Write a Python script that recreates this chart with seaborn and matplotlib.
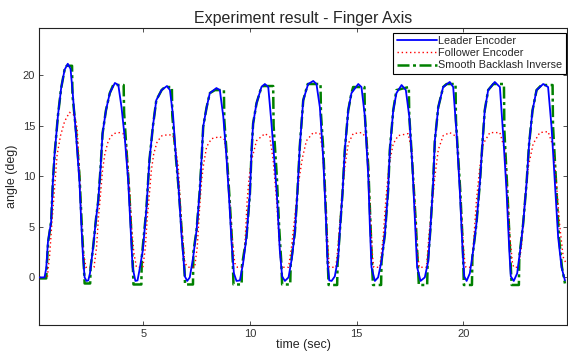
import pandas as pd
import matplotlib
matplotlib.use("Agg")
import matplotlib.pyplot as plt
import seaborn as sns

# values, (time sec, angle deg)
leader = [
    (0.13, 0.0), (0.36, 0.0), (0.44, 0.9), (0.52, 3.5), (0.67, 5.5), (0.75, 9.4), (0.83, 12.1), (0.99, 16.0),
    (1.14, 18.7), (1.30, 20.5), (1.45, 21.1), (1.58, 20.6), (1.69, 18.0), (1.85, 13.7), (2.00, 9.4), (2.08, 5.5),
    (2.16, 2.2), (2.24, 0.0), (2.33, -0.35),
    (2.41, -0.3), (2.49, 0.4), (2.64, 3.0), (2.77, 5.7), (2.88, 7.6), (2.99, 10.9), (3.08, 14.2), (3.24, 16.5),
    (3.42, 18.2), (3.66, 19.2), (3.82, 19.0), (3.97, 16.8), (4.13, 13.6), (4.28, 9.6), (4.39, 5.0), (4.49, 1.0),
    (4.62, -0.35),
    (4.72, -0.3), (4.81, 0.7), (4.97, 2.7), (5.13, 6.6), (5.28, 11.6), (5.44, 14.9), (5.60, 17.5), (5.85, 18.5),
    (6.10, 18.9), (6.24, 18.5), (6.39, 15.9), (6.50, 12.5), (6.63, 9.3), (6.78, 4.3), (6.94, 0.1), (7.05, -0.35),
    (7.17, 0.0), (7.33, 2.0), (7.49, 4.7), (7.64, 8.6), (7.72, 11.6), (7.80, 14.9), (7.96, 16.8), (8.11, 18.2),
    (8.42, 18.7), (8.58, 18.5), (8.74, 15.9), (8.89, 11.9), (9.02, 7.6), (9.13, 3.4), (9.24, 0.4), (9.36, -0.35),
    (9.52, -0.3), (9.67, 1.4), (9.83, 4.0), (9.99, 8.3), (10.07, 12.6), (10.14, 15.2), (10.30, 17.2), (10.53, 18.8),
    (10.69, 19.1), (10.85, 18.8), (11.00, 15.2), (11.16, 10.9), (11.27, 7.6), (11.39, 2.7), (11.50, 0.1), (11.63, -0.35),
    (11.80, 0.0), (11.95, 1.8), (12.10, 4.5), (12.22, 8.5), (12.33, 13.0), (12.49, 17.5), (12.72, 19.1), (12.96, 19.4),
    (13.11, 19.1), (13.27, 16.8), (13.43, 11.6), (13.55, 6.0), (13.63, 1.4), (13.71, -0.3), (13.82, -0.35),
    (13.97, 0.1), (14.13, 2.0), (14.21, 4.7), (14.33, 8.3), (14.44, 12.6), (14.60, 16.5), (14.75, 18.2), (15.07, 19.1),
    (15.22, 18.8), (15.38, 15.9), (15.54, 9.9), (15.61, 5.3), (15.69, 1.0), (15.85, -0.35),
    (16.00, 0.0), (16.16, 1.6), (16.32, 4.3), (16.47, 8.6), (16.55, 12.6), (16.71, 16.5), (16.86, 18.2), (17.10, 19.0),
    (17.30, 18.5), (17.46, 15.9), (17.61, 10.9), (17.72, 6.0), (17.83, 1.0), (17.99, -0.35),
    (18.19, 0.0), (18.35, 1.6), (18.45, 4.7), (18.58, 9.3), (18.66, 13.5), (18.82, 16.8), (19.05, 18.8), (19.36, 19.3),
    (19.52, 18.8), (19.68, 14.2), (19.83, 8.6), (19.96, 2.7), (20.04, 0.1), (20.15, -0.35),
    (20.30, 0.4), (20.46, 2.7), (20.61, 5.3), (20.77, 9.3), (20.90, 13.5), (21.00, 16.5), (21.16, 18.5), (21.47, 19.3),
    (21.71, 18.8), (21.86, 14.2), (22.02, 8.6), (22.15, 2.7), (22.22, 0.1), (22.36, -0.35),
    (22.52, 0.4), (22.68, 3.0), (22.80, 5.3), (22.96, 9.3), (23.08, 13.2), (23.24, 16.5), (23.43, 18.5), (23.74, 19.1),
    (23.97, 18.8), (24.13, 14.9), (24.29, 9.3), (24.44, 4.0), (24.60, 1.0), (24.76, -0.3),
]

follower = [
    (0.13, 0.0), (0.49, 0.0), (0.60, 2.2), (0.71, 5.5), (0.83, 8.8), (0.95, 12.1), (1.11, 14.0), (1.30, 15.4),
    (1.53, 16.3), (1.77, 16.0), (1.89, 14.7), (2.00, 10.4), (2.08, 6.2), (2.16, 2.8), (2.30, 1.0),
    (2.68, 1.0), (2.80, 3.0), (2.88, 5.7), (2.99, 8.3), (3.08, 10.6), (3.19, 12.2), (3.35, 13.5), (3.58, 14.2),
    (3.89, 14.3), (4.05, 14.2), (4.20, 12.9), (4.36, 8.3), (4.44, 5.0), (4.55, 2.4), (4.67, 1.0),
    (4.97, 1.0), (5.09, 3.0), (5.17, 5.7), (5.28, 8.3), (5.37, 10.6), (5.48, 12.2), (5.64, 13.4), (5.87, 14.0),
    (6.18, 14.1), (6.39, 14.0), (6.52, 12.5), (6.63, 10.9), (6.78, 5.3), (6.94, 1.4), (7.10, 1.0),
    (7.40, 1.0), (7.52, 3.0), (7.62, 6.5), (7.72, 9.5), (7.82, 11.2), (7.96, 12.9), (8.19, 13.7), (8.58, 13.9),
    (8.80, 13.6), (8.92, 11.5), (9.03, 7.8), (9.15, 4.0), (9.28, 1.4), (9.40, 1.0),
    (9.65, 1.0), (9.75, 3.0), (9.86, 7.6), (9.96, 10.0), (10.07, 11.6), (10.30, 13.5), (10.69, 14.2), (10.92, 13.9),
    (11.02, 12.5), (11.08, 11.6), (11.24, 7.6), (11.39, 2.7), (11.47, 1.0),
    (11.80, 1.0), (11.94, 3.0), (12.12, 6.5), (12.28, 9.5), (12.45, 11.8), (12.64, 13.5), (12.96, 14.3), (13.27, 14.2),
    (13.39, 12.6), (13.50, 9.3), (13.61, 4.3), (13.71, 1.0),
    (14.02, 1.0), (14.13, 3.3), (14.29, 7.6), (14.44, 10.9), (14.60, 13.2), (14.83, 14.2), (15.22, 14.3), (15.46, 13.8),
    (15.54, 10.9), (15.64, 6.0), (15.74, 2.0), (15.80, 1.0),
    (16.08, 1.0), (16.24, 4.0), (16.36, 7.6), (16.52, 11.2), (16.71, 13.2), (16.94, 14.0), (17.41, 14.2), (17.57, 12.6),
    (17.72, 7.6), (17.83, 2.7), (17.93, 1.0),
    (18.27, 1.0), (18.39, 4.3), (18.55, 7.6), (18.66, 9.9), (18.82, 12.6), (19.05, 14.0), (19.36, 14.3), (19.68, 13.9),
    (19.76, 11.6), (19.87, 7.6), (20.00, 3.0), (20.07, 1.4), (20.12, 1.0),
    (20.38, 1.0), (20.46, 3.0), (20.61, 7.6), (20.77, 10.9), (20.93, 13.2), (21.24, 14.3), (21.71, 14.3), (21.94, 12.6),
    (22.05, 8.6), (22.18, 4.0), (22.30, 1.4), (22.36, 1.0),
    (22.57, 1.0), (22.72, 3.0), (22.88, 7.6), (23.04, 10.9), (23.27, 13.2), (23.58, 14.3), (23.97, 14.4), (24.21, 12.9),
    (24.36, 9.3), (24.52, 5.0), (24.68, 2.0), (24.83, 1.3),
]

smooth_inverse = [
    (0.13, -0.1), (0.44, -0.1), (0.47, 1.2), (0.53, 3.5), (0.67, 5.5), (0.75, 9.4), (0.83, 12.1), (0.99, 16.0),
    (1.14, 18.7), (1.30, 20.5), (1.40, 20.9), (1.65, 20.9), (1.67, 18.0), (1.85, 14.2), (2.00, 10.0), (2.10, 5.5),
    (2.18, 2.2), (2.24, -0.6), (2.50, -0.6), (2.52, 1.0),
    (2.64, 3.0), (2.77, 5.7), (2.88, 7.6), (2.99, 10.9), (3.08, 14.2), (3.24, 16.5), (3.42, 18.2), (3.58, 19.0),
    (4.07, 19.0), (4.09, 16.3), (4.20, 12.8), (4.33, 8.5), (4.42, 4.8), (4.50, 1.2), (4.53, -0.7), (4.90, -0.7),
    (4.92, 2.0),
    (5.13, 6.6), (5.28, 11.6), (5.44, 14.9), (5.60, 17.5), (5.85, 18.5), (6.00, 18.8), (6.33, 18.8), (6.35, 16.0),
    (6.50, 12.3), (6.66, 8.5), (6.80, 4.3), (6.92, 0.8), (6.95, -0.7), (7.32, -0.7), (7.34, 2.5),
    (7.49, 4.7), (7.64, 8.6), (7.72, 11.6), (7.80, 14.9), (7.96, 16.8), (8.11, 18.2), (8.35, 18.5), (8.77, 18.5),
    (8.79, 15.5), (8.92, 11.6), (9.05, 7.3), (9.16, 3.2), (9.22, -0.7), (9.60, -0.7), (9.62, 1.2),
    (9.83, 4.0), (9.99, 8.3), (10.07, 12.6), (10.14, 15.2), (10.30, 17.2), (10.53, 18.8), (10.60, 18.9), (11.08, 18.9),
    (11.10, 15.0), (11.25, 10.0), (11.36, 5.0), (11.46, 1.5), (11.50, -0.7), (11.88, -0.7), (11.90, 1.2),
    (12.10, 4.5), (12.22, 8.5), (12.33, 13.0), (12.49, 17.5), (12.70, 19.1), (13.30, 19.1), (13.32, 16.2), (13.43, 12.6),
    (13.55, 6.6), (13.64, 1.4), (13.68, -0.75), (14.08, -0.75), (14.10, 1.4),
    (14.33, 8.3), (14.44, 12.6), (14.60, 16.5), (14.75, 18.2), (14.83, 18.8), (15.36, 18.8), (15.38, 16.0), (15.54, 10.9),
    (15.64, 5.3), (15.72, 1.0), (15.76, -0.75), (16.14, -0.75), (16.16, 1.6),
    (16.32, 4.3), (16.47, 8.6), (16.55, 12.6), (16.71, 16.5), (16.86, 18.5), (17.44, 18.8), (17.46, 16.0), (17.61, 11.0),
    (17.77, 5.3), (17.87, 1.0), (17.91, -0.75), (18.30, -0.75), (18.32, 1.2),
    (18.45, 4.7), (18.58, 9.3), (18.66, 13.5), (18.82, 16.8), (19.05, 18.8), (19.21, 19.1), (19.63, 19.1), (19.65, 15.5),
    (19.85, 8.6), (19.97, 3.2), (20.02, -0.75), (20.40, -0.75), (20.42, 2.0),
    (20.61, 5.3), (20.77, 9.3), (20.90, 13.5), (21.00, 16.5), (21.16, 18.5), (21.40, 19.1), (21.90, 19.1), (21.92, 14.5),
    (22.05, 9.0), (22.17, 3.5), (22.26, -0.75), (22.60, -0.75), (22.62, 2.0),
    (22.80, 5.3), (22.96, 9.3), (23.08, 13.2), (23.24, 16.5), (23.43, 18.5), (23.66, 19.0), (24.18, 19.0), (24.20, 15.0),
    (24.35, 9.0), (24.48, 4.0), (24.62, 1.0), (24.76, -0.6),
]

series_names = ["Leader Encoder", "Follower Encoder", "Smooth Backlash Inverse"]
x_ticks = [5, 10, 15, 20]
y_ticks = [0, 5, 10, 15, 20]

sns.set_style("ticks")
plt.rcParams["font.family"] = ["Liberation Sans", "DejaVu Sans"]

fig = plt.figure(figsize=(5.68, 3.54), dpi=100)
ax = fig.add_axes([0.069, 0.082, 0.929, 0.838])

frames = {}
for name, pts in zip(series_names, [leader, follower, smooth_inverse]):
    frames[name] = pd.DataFrame(pts, columns=["time", "angle"])

sns.lineplot(data=frames["Smooth Backlash Inverse"], x="time", y="angle", ax=ax, sort=False,
             estimator=None, color="#008000", lw=1.8, linestyle=(0, (4.8, 1.4, 1.2, 1.4)), zorder=2)
sns.lineplot(data=frames["Follower Encoder"], x="time", y="angle", ax=ax, sort=False,
             estimator=None, color="#ff0000", lw=1.0, linestyle=(0, (1, 2)), zorder=3)
sns.lineplot(data=frames["Leader Encoder"], x="time", y="angle", ax=ax, sort=False,
             estimator=None, color="#0000ff", lw=1.3, zorder=4)

lines = ax.get_lines()
handles = [lines[2], lines[1], lines[0]]
leg = ax.legend(handles, series_names, loc="upper right", bbox_to_anchor=(0.998, 0.985),
                borderaxespad=0, fontsize=7.8, handlelength=3.7, handletextpad=0.15,
                labelspacing=0.2, borderpad=0.3, fancybox=False, framealpha=1)
leg.get_frame().set_edgecolor("black")
leg.get_frame().set_linewidth(0.8)

ax.set_xlim(0.11, 24.85)
ax.set_ylim(-4.7, 24.6)
ax.set_xticks(x_ticks)
ax.set_yticks(y_ticks)
ax.tick_params(direction="in", length=3, width=0.6, top=True, right=True,
               labelsize=8, colors="#333333", pad=3)
for s in ax.spines.values():
    s.set_visible(True)
    s.set_color("#222222")
    s.set_linewidth(0.8)

ax.set_xlabel("time (sec)", fontsize=9, labelpad=0)
ax.set_ylabel("angle (deg)", fontsize=9, labelpad=3)
ax.set_title("Experiment result - Finger Axis", fontsize=11.5, pad=4)

fig.savefig("out.png", dpi=100)
